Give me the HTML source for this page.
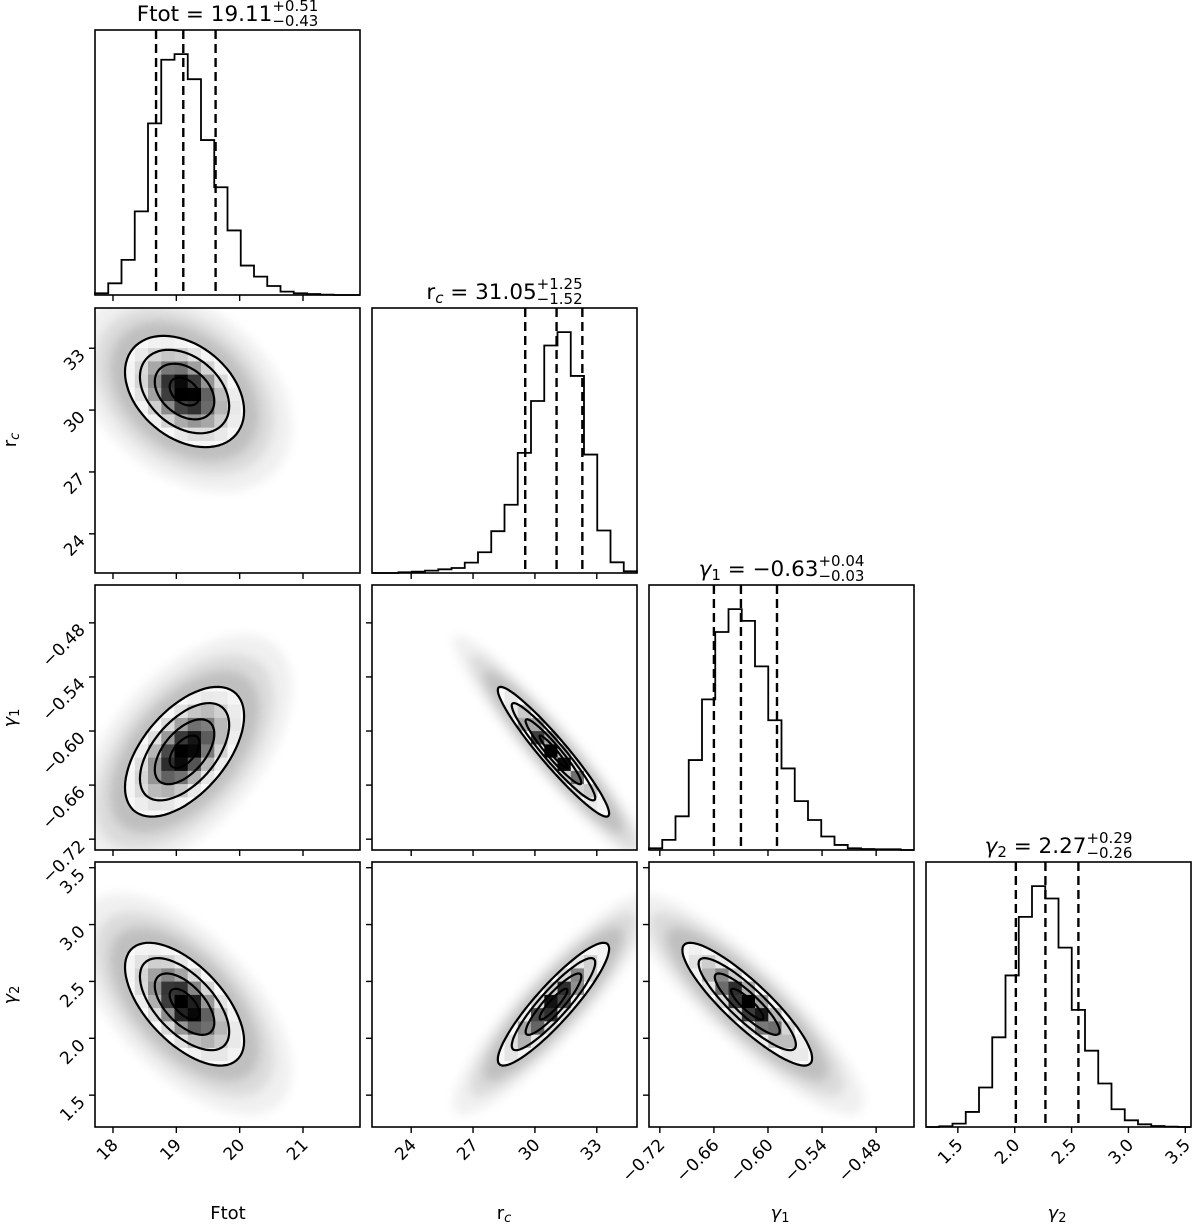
<!DOCTYPE html>
<html><head><meta charset="utf-8">
<style>
html,body{margin:0;padding:0;background:#fff;}
svg text{font-family:"DejaVu Sans","Liberation Sans",sans-serif;fill:#000;}
</style></head>
<body>
<svg id="corner" width="1200" height="1222" viewBox="0 0 1200 1222" xmlns="http://www.w3.org/2000/svg">
<defs>
<filter id="blur" x="-50%" y="-50%" width="200%" height="200%"><feGaussianBlur stdDeviation="5"/></filter>
</defs>
<g id="layer"></g>
<g id="titles"></g>
</svg>
<script>
// ---- data ----
const paramNames = ["Ftot","rc","g1","g2"];
const rangeMin = [17.716, 22.1, -0.732, 1.22];
const rangeMax = [21.90, 34.95, -0.438, 3.55];
const tickVals = [[18,19,20,21],[24,27,30,33],[-0.72,-0.66,-0.60,-0.54,-0.48],[1.5,2.0,2.5,3.0,3.5]];
const tickLabels = [["18","19","20","21"],["24","27","30","33"],["−0.72","−0.66","−0.60","−0.54","−0.48"],["1.5","2.0","2.5","3.0","3.5"]];
const histFtot = [5,35,105,250,513,703,720,645,463,322,193,88,55,27,10,5,3,1,0,0];
const histRc = [0,0,2,4,7,11,15,31,62,125,204,359,514,680,720,589,354,127,32,5];
const histG1 = [5,30,100,267,447,647,715,680,545,385,242,145,89,40,15,5,3,2,2,0];
const histG2 = [0,2,10,45,118,268,453,628,720,683,536,350,228,130,53,20,8,3,1,0];
const quantFtot = [18.68,19.11,19.62];
const quantRc = [29.53,31.05,32.30];
const quantG1 = [-0.66,-0.63,-0.59];
const quantG2 = [2.01,2.27,2.56];
const postMean = [19.13, 30.9, -0.623, 2.30];
const postSigma = [0.47, 1.35, 0.036, 0.27];
// correlation pairs [i,j,rho]
const corrPairs = [[0,1,-0.35],[0,2,0.55],[1,2,-0.95],[0,3,-0.6],[1,3,0.9],[2,3,-0.88]];
const contourLevels = [0.5,1.0,1.5,2.0];
const titleMain = ["Ftot = 19.11","r_c = 31.05","γ_1 = −0.63","γ_2 = 2.27"];
const titlePlus = ["+0.51","+1.25","+0.04","+0.29"];
const titleMinus = ["−0.43","−1.52","−0.03","−0.26"];

const hists=[histFtot,histRc,histG1,histG2];
const quants=[quantFtot,quantRc,quantG1,quantG2];
const X0=[95,372,649,926], Y0=[30,308,585,862], S=265;
const NS="http://www.w3.org/2000/svg";
const layer=document.getElementById('layer');
function mk(tag,attrs,parent){const e=document.createElementNS(NS,tag);for(const k in attrs)e.setAttribute(k,attrs[k]);(parent||layer).appendChild(e);return e;}
function sx(col,v){return X0[col]+(v-rangeMin[col])/(rangeMax[col]-rangeMin[col])*S;}
function sy(row,v){return Y0[row]+S-(v-rangeMin[row])/(rangeMax[row]-rangeMin[row])*S;}

// ---- 1D histograms ----
for(let k=0;k<4;k++){
  const g=mk('g',{});
  
  
  const h=hists[k], n=h.length, mx=Math.max(...h)*1.1;
  const bw=S/n; let d='M'+X0[k]+','+(Y0[k]+S);
  for(let i=0;i<n;i++){
    const y=Y0[k]+S-h[i]/mx*S;
    d+=' L'+(X0[k]+i*bw)+','+y+' L'+(X0[k]+(i+1)*bw)+','+y;
  }
  d+=' L'+(X0[k]+S)+','+(Y0[k]+S);
  const p=mk('path',{d:d,fill:'none',stroke:'#000','stroke-width':1.8},g);
  
  
  quants[k].forEach(q=>{
    const x=sx(k,q);
    const l=mk('line',{x1:x,x2:x,y1:Y0[k],y2:Y0[k]+S,stroke:'#000','stroke-width':2.4,'stroke-dasharray':'9,5'},g);
    
    
  });
}

// ---- 2D panels ----
function ellPath(i,j,rho,r){
  let d='';
  for(let t=0;t<=72;t++){
    const a=t/72*2*Math.PI;
    const u=Math.cos(a), w=rho*Math.cos(a)+Math.sqrt(1-rho*rho)*Math.sin(a);
    const vx=postMean[i]+r*postSigma[i]*u, vy=postMean[j]+r*postSigma[j]*w;
    d+=(t?' L':'M')+sx(i,vx).toFixed(1)+','+sy(j,vy).toFixed(1);
  }
  return d+'Z';
}
corrPairs.forEach(([i,j,rho],pi)=>{
  const g=mk('g',{});
  
  
  const cid='clip'+pi;
  const cp=mk('clipPath',{id:cid},g);
  mk('rect',{x:X0[i],y:Y0[j],width:S,height:S},cp);
  const inner=mk('g',{'clip-path':'url(#'+cid+')'},g);
  const cloud=mk('g',{filter:'url(#blur)'},inner);
  
  
  [[3.6,0.06],[3.0,0.09],[2.5,0.13]].forEach(([r,o])=>mk('path',{d:ellPath(i,j,rho,r),fill:'#000','fill-opacity':o},cloud));
  const ecid='eclip'+pi;
  const ecp=mk('clipPath',{id:ecid},g);
  mk('path',{d:ellPath(i,j,rho,2.0)},ecp);
  const cells=mk('g',{'clip-path':'url(#'+ecid+')'},inner);
  
  
  mk('path',{d:ellPath(i,j,rho,2.0),fill:'#fff'},cells);
  const nb=20;
  for(let a=0;a<nb;a++)for(let b=0;b<nb;b++){
    const vx=rangeMin[i]+(a+0.5)/nb*(rangeMax[i]-rangeMin[i]);
    const vy=rangeMin[j]+(b+0.5)/nb*(rangeMax[j]-rangeMin[j]);
    const zx=(vx-postMean[i])/postSigma[i], zy=(vy-postMean[j])/postSigma[j];
    const m2=(zx*zx-2*rho*zx*zy+zy*zy)/(1-rho*rho);
    if(m2>6)continue;
    const dens=Math.pow(Math.exp(-m2/2),1.8);
    const gv=Math.round(255*(1-Math.min(1,dens*1.1)));
    const x1=sx(i,rangeMin[i]+a/nb*(rangeMax[i]-rangeMin[i])), x2=sx(i,rangeMin[i]+(a+1)/nb*(rangeMax[i]-rangeMin[i]));
    const y1=sy(j,rangeMin[j]+(b+1)/nb*(rangeMax[j]-rangeMin[j])), y2=sy(j,rangeMin[j]+b/nb*(rangeMax[j]-rangeMin[j]));
    const c=mk('rect',{x:x1.toFixed(1),y:y1.toFixed(1),width:(x2-x1+0.3).toFixed(1),height:(y2-y1+0.3).toFixed(1),fill:'rgb('+gv+','+gv+','+gv+')'},cells);
    
    
  }
  contourLevels.forEach(r=>{
    const c=mk('path',{d:ellPath(i,j,rho,r),fill:'none',stroke:'#000','stroke-width':2.2},inner);
    
    
  });
});

// ---- frames and ticks ----
for(let row=0;row<4;row++)for(let col=0;col<=row;col++){
  const f=mk('rect',{x:X0[col],y:Y0[row],width:S,height:S,fill:'none',stroke:'#000','stroke-width':1.6});
  
  
  tickVals[col].forEach((v,ti)=>{
    const x=sx(col,v);
    const t=mk('line',{x1:x,x2:x,y1:Y0[row]+S,y2:Y0[row]+S+6,stroke:'#000','stroke-width':1.4});
    
    
    if(row===3){
      const ax=x+6, ay=Y0[3]+S+19;
      const tx=mk('text',{x:ax,y:ay,'font-size':17,'text-anchor':'end',transform:'rotate(-45 '+ax+' '+ay+')'});
      tx.textContent=tickLabels[col][ti];
      
      
    }
  });
  if(row>col){
    tickVals[row].forEach((v,ti)=>{
      const y=sy(row,v);
      const t=mk('line',{x1:X0[col]-6,x2:X0[col],y1:y,y2:y,stroke:'#000','stroke-width':1.4});
      
      
      if(col===0){
        const ax=X0[0]-9, ay=y+8;
        const tx=mk('text',{x:ax,y:ay,'font-size':17,'text-anchor':'end',transform:'rotate(-45 '+ax+' '+ay+')'});
        tx.textContent=tickLabels[row][ti];
        
        
      }
    });
  }
}

// ---- titles ----
const tg=document.getElementById('titles');
for(let k=0;k<4;k++){
  const g=mk('g',{},tg);
  
  
  const base=Y0[k]-9;
  const t=mk('text',{x:0,y:base,'font-size':21.5},g);
  const parts=titleMain[k].split(' = ');
  const sym=parts[0].split('_');
  if(sym.length>1){
    const a=mk('tspan',{'font-style':sym[0]==='γ'?'italic':'normal'},t); a.textContent=sym[0];
    const b=mk('tspan',{'font-size':15,dy:4,'font-style':sym[0]==='r'?'italic':'normal'},t); b.textContent=sym[1];
    const c=mk('tspan',{dy:-4},t); c.textContent=' = '+parts[1];
  } else { t.textContent=titleMain[k]; }
  const w1=t.getComputedTextLength();
  const e=mk('text',{'font-size':15},g);
  const p=mk('tspan',{x:0,y:base-10},e); p.textContent=titlePlus[k];
  const m=mk('tspan',{x:0,y:base+5},e); m.textContent=titleMinus[k];
  const w2=Math.max(p.getComputedTextLength(),m.getComputedTextLength());
  const x0=X0[k]+S/2-(w1+w2)/2;
  t.setAttribute('x',x0);
  p.setAttribute('x',x0+w1); m.setAttribute('x',x0+w1);
}
</script>
<svg width="1200" height="1222" style="position:absolute;left:0;top:0" xmlns="http://www.w3.org/2000/svg">
<g font-size="18">
<text x="228" y="1219" text-anchor="middle">Ftot</text>
<text x="504" y="1219" text-anchor="middle">r<tspan font-size="13" font-style="italic" dy="3">c</tspan></text>
<text x="780" y="1219" text-anchor="middle"><tspan font-style="italic">γ</tspan><tspan font-size="13" dy="3">1</tspan></text>
<text x="1057" y="1219" text-anchor="middle"><tspan font-style="italic">γ</tspan><tspan font-size="13" dy="3">2</tspan></text>
<text x="16" y="440" text-anchor="middle" transform="rotate(-90 16 440)">r<tspan font-size="13" font-style="italic" dy="3">c</tspan></text>
<text x="16" y="718" text-anchor="middle" transform="rotate(-90 16 718)"><tspan font-style="italic">γ</tspan><tspan font-size="13" dy="3">1</tspan></text>
<text x="16" y="995" text-anchor="middle" transform="rotate(-90 16 995)"><tspan font-style="italic">γ</tspan><tspan font-size="13" dy="3">2</tspan></text>
</g>
</svg>
</body></html>
